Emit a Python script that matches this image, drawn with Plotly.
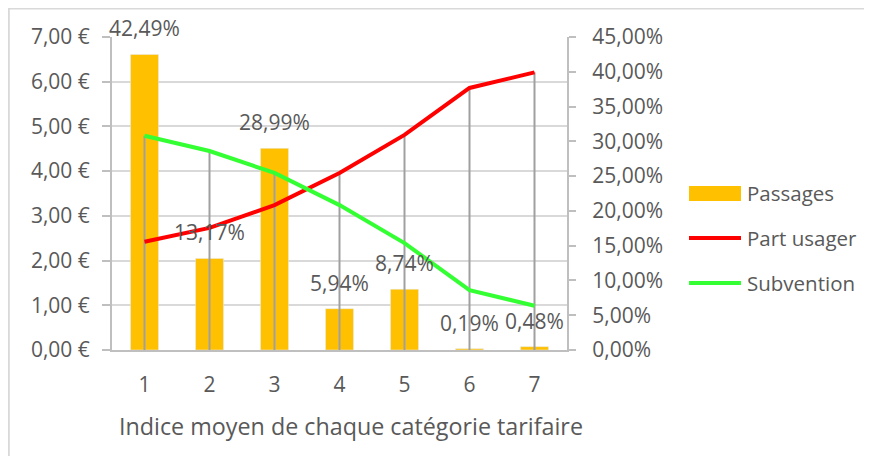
import plotly.graph_objects as go

categories = ["1", "2", "3", "4", "5", "6", "7"]
passages = [0.4249, 0.1317, 0.2899, 0.0594, 0.0874, 0.0019, 0.0048]
part_usager = [2.42, 2.73, 3.24, 3.96, 4.81, 5.86, 6.21]
subvention = [4.79, 4.45, 3.96, 3.24, 2.39, 1.34, 0.99]

# page has an 8px body margin; figure sized to fit inside the window
OFF = 8
W, H = 872 - 2 * OFF, 464 - 2 * OFF
L, R, T, B = 112 - OFF, 567 - OFF, 37 - OFF, 350 - OFF  # plot area in figure px

def px(x):  # page px -> paper x
    return (x - OFF - L) / (R - L)

def py(y):  # page px -> paper y
    return (B - (y - OFF)) / (B - T)

TXT = "#595959"
AX = "#bfbfbf"
FONT = "Open Sans"

fig = go.Figure()

fig.add_trace(go.Bar(
    x=categories, y=passages, name="Passages", marker_color="#ffc000",
    width=0.43, yaxis="y", showlegend=False, hoverinfo="skip"))

dx, dy = [], []
for c, a, b in zip(categories, part_usager, subvention):
    dx += [c, c, None]
    dy += [0, max(a, b), None]
fig.add_trace(go.Scatter(x=dx, y=dy, mode="lines", yaxis="y2",
                         line=dict(color="#a0a0a0", width=2),
                         showlegend=False, hoverinfo="skip"))
fig.add_trace(go.Scatter(x=categories, y=part_usager, mode="lines", name="Part usager",
                         yaxis="y2", line=dict(color="#ff0000", width=4),
                         showlegend=False))
fig.add_trace(go.Scatter(x=categories, y=subvention, mode="lines", name="Subvention",
                         yaxis="y2", line=dict(color="#33ff33", width=4),
                         showlegend=False))

annotations = []
for i, v in enumerate(passages):
    annotations.append(dict(
        x=i, y=v, xref="x", yref="y", text=f"{v*100:.2f}".replace(".", ",") + "%",
        showarrow=False, yanchor="bottom", yshift=10,
        font=dict(family=FONT, size=21, color=TXT)))

annotations.append(dict(x=px(351), y=py(426), xref="paper", yref="paper",
                        text="Indice moyen de chaque catégorie tarifaire",
                        showarrow=False, xanchor="center", yanchor="middle",
                        font=dict(family=FONT, size=23.3, color=TXT)))

leg_items = [("Passages", 193), ("Part usager", 238), ("Subvention", 283)]
for name, yc in leg_items:
    annotations.append(dict(x=px(745), y=py(yc), xref="paper", yref="paper", text=name,
                            showarrow=False, xanchor="left", yanchor="middle",
                            font=dict(family=FONT, size=20.5, color=TXT)))

shapes = [
    dict(type="rect", xref="paper", yref="paper", x0=px(689), x1=px(741),
         y0=py(201), y1=py(186), fillcolor="#ffc000", line=dict(width=0)),
    dict(type="line", xref="paper", yref="paper", x0=px(689), x1=px(741),
         y0=py(238), y1=py(238), line=dict(color="#ff0000", width=4)),
    dict(type="line", xref="paper", yref="paper", x0=px(689), x1=px(741),
         y0=py(283), y1=py(283), line=dict(color="#33ff33", width=4)),
    # chart frame (top and left edges only; others fall outside the window)
    dict(type="line", xref="paper", yref="paper", x0=px(8.5), x1=px(880),
         y0=py(8.6), y1=py(8.6), line=dict(color="#d9d9d9", width=2), layer="below"),
    dict(type="line", xref="paper", yref="paper", x0=px(8.8), x1=px(8.8),
         y0=py(8), y1=py(480), line=dict(color="#d9d9d9", width=2), layer="below"),
]

fig.update_layout(
    width=W, height=H,
    margin=dict(l=L, r=W - R, t=T, b=H - B, pad=0),
    paper_bgcolor="white", plot_bgcolor="white",
    separators=", ",
    font=dict(family=FONT, size=21, color=TXT),
    bargap=0.57,
    xaxis=dict(type="category", range=[-0.5, 6.5], showgrid=False,
               showline=True, linecolor=AX, linewidth=2, ticks="",
               tickfont=dict(family=FONT, size=21, color=TXT),
               ticklabelstandoff=15, zeroline=False),
    yaxis=dict(side="right", range=[0, 0.45], dtick=0.05, tickformat=".2%",
               showgrid=False, showline=True, linecolor=AX, linewidth=2,
               ticks="outside", ticklen=7, tickcolor=AX, tickwidth=2,
               ticklabelstandoff=12, zeroline=False,
               tickfont=dict(family=FONT, size=21, color=TXT)),
    yaxis2=dict(side="left", overlaying="y", range=[0, 7], dtick=1,
                tickformat=".2f", ticksuffix=" €",
                showgrid=True, gridcolor="#d9d9d9", gridwidth=2,
                showline=True, linecolor=AX, linewidth=2,
                ticks="outside", ticklen=8, tickcolor=AX, tickwidth=2,
                ticklabelstandoff=8, zeroline=False,
                tickfont=dict(family=FONT, size=21, color=TXT)),
    showlegend=False,
    annotations=annotations,
    shapes=shapes,
)

fig.write_html("out.html")
